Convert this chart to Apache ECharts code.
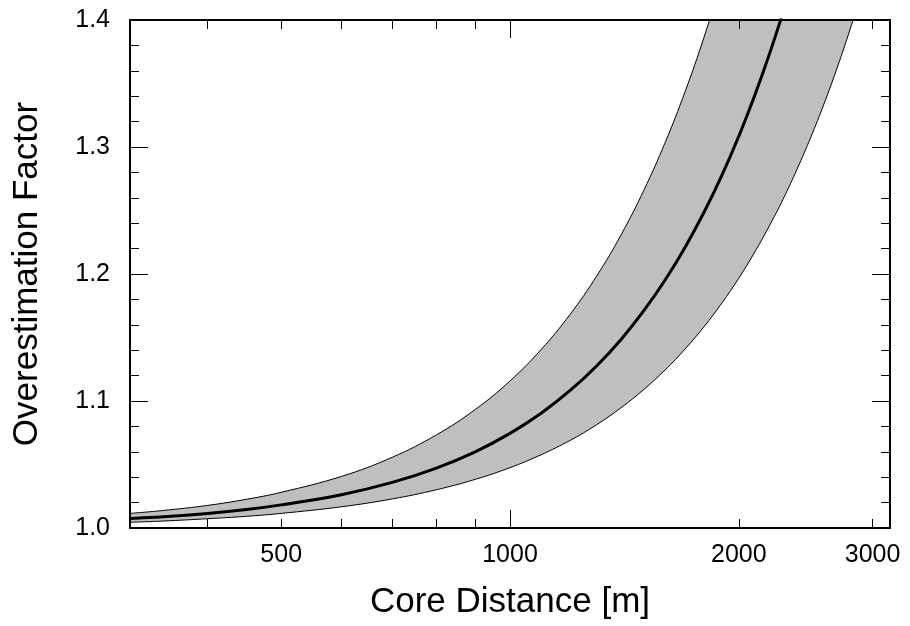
<!DOCTYPE html>
<html>
<head>
<meta charset="utf-8">
<script src="https://cdn.jsdelivr.net/npm/echarts@6/dist/echarts.min.js"></script>
<style>html,body{margin:0;padding:0;background:#fff;}#c{width:910px;height:626px;}</style>
</head>
<body>
<div id="c"></div>
<script>
// Core distance [m]
const distances = [316.2, 350, 400, 450, 500, 600, 700, 800, 900, 1000, 1100, 1200, 1300, 1400, 1500, 1600, 1700, 1800, 1900, 2000, 2100, 2200, 2300, 2400, 2500, 2600, 2700, 2800, 2900, 3000, 3162];
// central overestimation factor
const central = [1.0075, 1.0088, 1.0114, 1.0145, 1.0182, 1.0262, 1.0359, 1.0472, 1.0600, 1.0745, 1.0906, 1.1083, 1.1276, 1.1485, 1.1711, 1.1953, 1.2211, 1.2486, 1.2777, 1.3085, 1.3410, 1.3751, 1.4108, 1.4484];
// upper edge of band
const upper = [1.0115, 1.0138, 1.0178, 1.0226, 1.0281, 1.0406, 1.0557, 1.0733, 1.0933, 1.1158, 1.1408, 1.1683, 1.1983, 1.2308, 1.2659, 1.3035, 1.3437, 1.3864, 1.4317, 1.4795, 1.530, 1.583, 1.639, 1.697, 1.758, 1.821, 1.887, 1.956, 2.027, 2.101, 2.226];
// lower edge of band
const lower = [1.0045, 1.0055, 1.0073, 1.0092, 1.0115, 1.0167, 1.0229, 1.0301, 1.0383, 1.0475, 1.0578, 1.0690, 1.0813, 1.0947, 1.1091, 1.1245, 1.1410, 1.1585, 1.1771, 1.1967, 1.2174, 1.2392, 1.2619, 1.2859, 1.3108, 1.3368, 1.3639, 1.3921, 1.4213, 1.4516, 1.503];
// tick marks
const xLabelTicks = [500, 1000, 2000, 3000];
const xShortTicks = [400, 500, 600, 700, 800, 900, 2000, 3000];
const xLongTicks = [1000];
const xRange = [316.2278, 3162.278];
const yRange = [1.0, 1.4];

const L = Math.log10;
const pairs = (arr) => arr.map((v, i) => [L(distances[i]), v]);
const FONT = "'Liberation Sans', Arial, Helvetica, sans-serif";

const baseX = {
  type: 'value', min: L(xRange[0]), max: L(xRange[1]),
  splitLine: { show: false }, z: 10
};
const xAxes = [
  Object.assign({}, baseX, {
    position: 'bottom',
    axisLine: { show: true, lineStyle: { color: '#000', width: 2 } },
    axisTick: { show: true, inside: true, length: 9, customValues: xShortTicks.map(L), lineStyle: { color: '#000', width: 1 } },
    axisLabel: { show: true, customValues: xLabelTicks.map(L), margin: 15, fontSize: 25, color: '#000', fontFamily: FONT,
      formatter: (v) => String(Math.round(Math.pow(10, v))) },
    name: 'Core Distance [m]', nameLocation: 'middle', nameGap: 57,
    nameTextStyle: { fontSize: 35, color: '#000', fontFamily: FONT }
  }),
  Object.assign({}, baseX, {
    position: 'bottom',
    axisLine: { show: false },
    axisTick: { show: true, inside: true, length: 18, customValues: xLongTicks.map(L), lineStyle: { color: '#000', width: 1 } },
    axisLabel: { show: false }
  }),
  Object.assign({}, baseX, {
    position: 'top',
    axisLine: { show: true, lineStyle: { color: '#000', width: 2 } },
    axisTick: { show: true, inside: true, length: 9, customValues: xShortTicks.map(L), lineStyle: { color: '#000', width: 1 } },
    axisLabel: { show: false }
  }),
  Object.assign({}, baseX, {
    position: 'top',
    axisLine: { show: false },
    axisTick: { show: true, inside: true, length: 18, customValues: xLongTicks.map(L), lineStyle: { color: '#000', width: 1 } },
    axisLabel: { show: false }
  })
];

const baseY = {
  type: 'value', min: yRange[0], max: yRange[1], interval: 0.1,
  splitLine: { show: false }, z: 10,
  axisLine: { show: true, lineStyle: { color: '#000', width: 2 } },
  axisTick: { show: true, inside: true, length: 18, lineStyle: { color: '#000', width: 1 } },
  minorTick: { show: true, splitNumber: 5, length: 9, lineStyle: { color: '#000', width: 1 } }
};
const yAxes = [
  Object.assign({}, baseY, {
    position: 'left',
    axisLabel: { show: true, margin: 20, fontSize: 25, color: '#000', fontFamily: FONT, formatter: (v) => v.toFixed(1) },
    name: 'Overestimation Factor', nameLocation: 'middle', nameGap: 85, nameRotate: 90,
    nameTextStyle: { fontSize: 35, color: '#000', fontFamily: FONT }
  }),
  Object.assign({}, baseY, { position: 'right', axisLabel: { show: false } })
];

const chart = echarts.init(document.getElementById('c'), null, { renderer: 'canvas' });
chart.setOption({
  animation: false,
  backgroundColor: '#fff',
  grid: { left: 130, right: 20, top: 20, bottom: 98, containLabel: false },
  xAxis: xAxes,
  yAxis: yAxes,
  series: [
    { name: 'upper', type: 'line', data: pairs(upper), showSymbol: false, smooth: 0.4,
      lineStyle: { color: '#000', width: 1 }, areaStyle: { color: '#bfbfbf', opacity: 1 }, clip: true, z: 2 },
    { name: 'lower', type: 'line', data: pairs(lower), showSymbol: false, smooth: 0.4,
      lineStyle: { color: '#000', width: 1 }, areaStyle: { color: '#ffffff', opacity: 1 }, clip: true, z: 3 },
    { name: 'central', type: 'line', data: pairs(central), showSymbol: false, smooth: 0.4,
      lineStyle: { color: '#000', width: 3 }, clip: true, z: 4 }
  ]
});
</script>
</body>
</html>
